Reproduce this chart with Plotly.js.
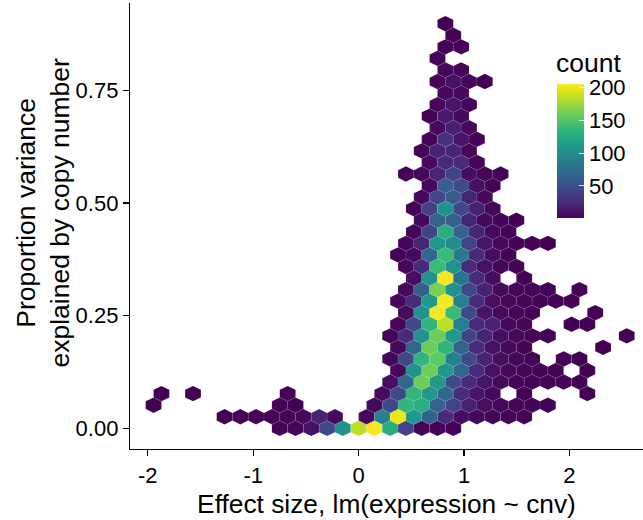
<!DOCTYPE html>
<html><head><meta charset="utf-8">
<script src="https://cdn.plot.ly/plotly-3.0.1.min.js"></script>
<style>html,body{margin:0;padding:0;background:#fff;} #chart{width:643px;height:520px;}</style>
</head><body><div id="chart"></div>
<script>
// ---- data: hexagonal bins, one entry per row (row 0 sits at y = 0) ----
// column position in units of the x bin width (odd rows are offset by half a bin)
const binCols = [
  [-5,-4,-3,-2,-1,0,1,2,3,4,5,6],
  [-8.5,-7.5,-6.5,-5.5,-4.5,-3.5,-2.5,-1.5,0.5,1.5,2.5,3.5,4.5,5.5,6.5,7.5,8.5,9.5,10.5],
  [-13,-5,-4,1,2,3,4,5,6,7,8,9,10,11,12],
  [-12.5,-10.5,-4.5,1.5,2.5,3.5,4.5,5.5,6.5,7.5,8.5,10.5,14.5],
  [2,3,4,5,6,7,8,9,10,11,12,13,14],
  [2.5,3.5,4.5,5.5,6.5,7.5,8.5,9.5,10.5,11.5,12.5,14.5],
  [2,3,4,5,6,7,8,9,10,11,13,14],
  [2.5,3.5,4.5,5.5,6.5,7.5,8.5,9.5,10.5,15.5],
  [2,3,4,5,6,7,8,9,10,11,12,17],
  [2.5,3.5,4.5,5.5,6.5,7.5,8.5,9.5,10.5,13.5,14.5],
  [3,4,5,6,7,8,9,10,11,15],
  [2.5,3.5,4.5,5.5,6.5,7.5,8.5,9.5,10.5,11.5,12.5,13.5],
  [3,4,5,6,7,8,9,10,11,12,14],
  [3.5,4.5,5.5,6.5,7.5,8.5,10.5],
  [3,4,5,6,7,8,9,10],
  [2.5,3.5,4.5,5.5,6.5,7.5,8.5,9.5],
  [3,4,5,6,7,8,9,10,11,12],
  [3.5,4.5,5.5,6.5,7.5,8.5,9.5],
  [4,5,6,7,8,9,10],
  [3.5,4.5,5.5,6.5,7.5,8.5],
  [4,5,6,7,8],
  [4.5,5.5,6.5,7.5,8.5],
  [3,4,5,6,7,8,9],
  [4.5,5.5,6.5,7.5],
  [4,5,6,7],
  [4.5,5.5,6.5,7.5],
  [5,6,7],
  [4.5,5.5,6.5],
  [5,6,7],
  [5.5,6.5],
  [5,6,7,8],
  [5.5,6.5],
  [5],
  [5.5,6.5],
  [6],
  [5.5]
];
const binCounts = [
  [2,3,10,45,105,185,205,130,42,4,3,2],
  [1,2,2,3,4,5,20,6,5,90,200,110,65,25,8,5,4,3,2],
  [1,2,1,5,45,135,130,65,42,20,8,5,4,3,2],
  [1,1,2,6,45,135,110,70,25,12,5,2,1],
  [8,70,160,110,48,25,12,6,4,3,3,2,1],
  [6,105,160,110,68,25,10,6,4,3,2,1],
  [5,45,135,155,90,45,22,8,5,3,2,1],
  [6,68,160,135,65,25,10,5,3,1],
  [4,25,105,160,110,42,22,8,5,3,2,1],
  [5,45,135,185,88,25,20,6,4,1,1],
  [6,105,204,140,45,12,6,4,3,1],
  [5,25,110,204,88,25,8,5,4,3,2,2],
  [6,65,165,105,45,20,6,4,3,2,1],
  [8,105,204,80,25,8,2],
  [6,25,140,105,25,10,4,3],
  [2,6,68,140,85,25,8,3],
  [4,22,110,100,42,12,5,3,2,1],
  [4,42,130,65,22,6,2],
  [5,65,62,22,6,3,1],
  [3,40,105,45,20,5],
  [5,45,60,22,6],
  [5,62,45,8,3],
  [2,5,22,42,8,4,2],
  [5,25,25,4],
  [3,20,22,4],
  [4,30,12,3],
  [6,18,5],
  [3,15,6],
  [4,12,4],
  [6,5],
  [3,10,4,1],
  [4,3],
  [2],
  [2,2],
  [2],
  [1]
];
const xTickVals = [-2,-1,0,1,2];
const xTickText = ['-2','-1','0','1','2'];
const yTickVals = [0,0.25,0.5,0.75];
const yTickText = ['0.00','0.25','0.50','0.75'];
const cbTickVals = [50,100,150,200];
const countMin = 1, countMax = 206;

// ---- bin geometry ----
const binWidthX = 0.14964;   // horizontal distance between hex centres
const rowStep = 0.025649;    // vertical distance between hex rows

const viridis = [[0,'#440154'],[0.06274509803921569,'#48186a'],[0.12549019607843137,'#472d7b'],
 [0.18823529411764706,'#424086'],[0.25098039215686274,'#3b528b'],[0.3137254901960784,'#33638d'],
 [0.3764705882352941,'#2c728e'],[0.4392156862745098,'#26828e'],[0.5019607843137255,'#21918c'],
 [0.5647058823529412,'#1fa088'],[0.6274509803921569,'#28ae80'],[0.6901960784313725,'#3fbc73'],
 [0.7529411764705882,'#5ec962'],[0.8156862745098039,'#84d44b'],[0.8784313725490196,'#addc30'],
 [0.9411764705882353,'#d8e219'],[1,'#fde725']];
function hex2rgb(h){return [parseInt(h.substr(1,2),16),parseInt(h.substr(3,2),16),parseInt(h.substr(5,2),16)];}
function colorFor(v){
  let t=(v-countMin)/(countMax-countMin); t=Math.max(0,Math.min(1,t));
  for(let i=1;i<viridis.length;i++){
    if(t<=viridis[i][0]){
      const a=viridis[i-1],b=viridis[i]; const f=(t-a[0])/(b[0]-a[0]);
      const ca=hex2rgb(a[1]),cb=hex2rgb(b[1]);
      return 'rgb('+ca.map((c,k)=>Math.round(c+(cb[k]-c)*f)).join(',')+')';
    }
  }
  return viridis[viridis.length-1][1];
}

const FONT='Liberation Sans, Arial, Helvetica, sans-serif';
const traces=[];
const cxAll=[],cyAll=[],cAll=[];
const hw=binWidthX/2, hv=rowStep*2/3, hs=rowStep/3;
binCols.forEach((cols,r)=>{
  cols.forEach((m,j)=>{
    const cx=m*binWidthX, cy=r*rowStep, c=binCounts[r][j];
    cxAll.push(cx); cyAll.push(cy); cAll.push(c);
    traces.push({type:'scatter',mode:'lines',fill:'toself',
      x:[cx+hw,cx,cx-hw,cx-hw,cx,cx+hw,cx+hw],
      y:[cy+hs,cy+hv,cy+hs,cy-hs,cy-hv,cy-hs,cy+hs],
      fillcolor:colorFor(c),line:{color:'rgba(255,255,255,0.13)',width:0.6},
      hoverinfo:'skip',showlegend:false});
  });
});
traces.push({type:'scatter',mode:'markers',x:cxAll,y:cyAll,hoverinfo:'skip',showlegend:false,
  marker:{size:1,opacity:0,color:cAll,colorscale:'Viridis',cmin:countMin,cmax:countMax,showscale:true,
    colorbar:{xref:'container',yref:'container',x:557/643,xanchor:'left',y:(520-254)/520,yanchor:'bottom',
      len:134,lenmode:'pixels',thickness:27,thicknessmode:'pixels',xpad:0,ypad:0,outlinewidth:0,
      tickvals:cbTickVals,ticks:'inside',ticklen:5,tickwidth:1,tickcolor:'rgba(255,255,255,0.8)',
      tickfont:{family:FONT,size:22,color:'#000'}}}});

const layout={
  width:643,height:520,paper_bgcolor:'#fff',plot_bgcolor:'#fff',
  margin:{l:130,r:0,t:3,b:71,autoexpand:false},
  font:{family:FONT,color:'#000'},
  xaxis:{range:[-2.169,2.698],showgrid:false,zeroline:false,showline:true,linecolor:'#000',linewidth:1.2,
    ticks:'outside',ticklen:6,tickwidth:1.2,tickcolor:'#000',tickvals:xTickVals,ticktext:xTickText,
    tickfont:{family:FONT,size:22,color:'#000'},
    title:{text:'Effect size, lm(expression ~ cnv)',font:{family:FONT,size:26.3,color:'#000'},standoff:8}},
  yaxis:{range:[-0.0459,0.9437],showgrid:false,zeroline:false,showline:true,linecolor:'#000',linewidth:1.2,
    ticks:'outside',ticklen:6,tickwidth:1.2,tickcolor:'#000',tickvals:yTickVals,ticktext:yTickText,
    tickfont:{family:FONT,size:22,color:'#000'}},
  annotations:[
    {text:'Proportion variance<br>explained by copy number',textangle:-90,
     xref:'paper',yref:'paper',x:(42.5-130)/513,y:(449-213)/446,xanchor:'center',yanchor:'middle',
     showarrow:false,font:{family:FONT,size:26.5,color:'#000'}},
    {text:'count',xref:'paper',yref:'paper',x:(555-130)/513,y:(449-79)/446,xanchor:'left',yanchor:'bottom',
     showarrow:false,borderpad:0,font:{family:FONT,size:26.5,color:'#000'}}]
};
Plotly.newPlot('chart',traces,layout,{staticPlot:true,displayModeBar:false});
</script></body></html>
